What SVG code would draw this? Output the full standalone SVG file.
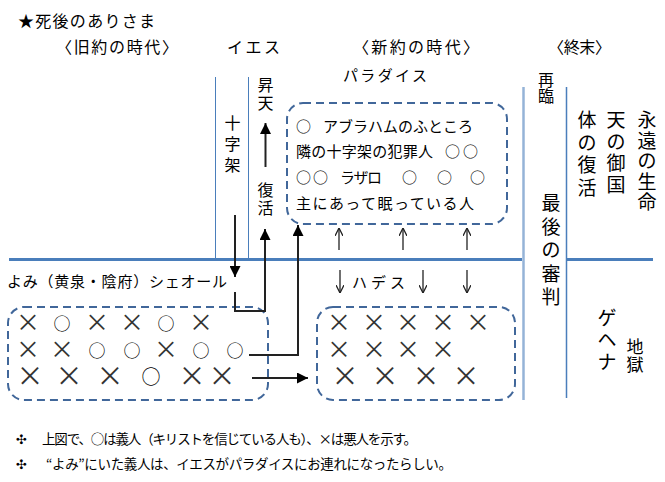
<svg xmlns="http://www.w3.org/2000/svg" width="665" height="482" viewBox="0 0 665 482">
<style>
text{font-family:"Noto Sans CJK JP","Noto Sans CJK SC",sans-serif;fill:#000}
.t{font-size:15px}
.h{font-size:16px}
.v{font-size:16px;text-anchor:middle}
.vb{font-size:19px;text-anchor:middle}
.o{font-size:17px;text-anchor:middle}
.x{font-size:24px;text-anchor:middle;fill:#333}
.xb{font-size:27px;text-anchor:middle;fill:#333}
.ft{font-size:13.5px}
.bul{font-family:"DejaVu Sans",sans-serif;font-size:13px}
.box{fill:none;stroke:#41679a;stroke-width:2;stroke-dasharray:8 5}
.a{stroke:#222;stroke-width:2;fill:none}
.ta{stroke:#222;stroke-width:1.3;fill:none}
.bl{stroke:#4a7ebb;fill:none}
</style>
<defs>
<marker id="ah" viewBox="0 0 10 10" refX="10" refY="5" markerWidth="11" markerHeight="11" markerUnits="userSpaceOnUse" orient="auto"><path d="M0,0 L10,5 L0,10 z" fill="#000"/></marker>
<marker id="oh" viewBox="0 0 10 10" refX="10" refY="5" markerWidth="8" markerHeight="8" markerUnits="userSpaceOnUse" orient="auto"><path d="M0,0 L10,5 L0,10" fill="none" stroke="#222" stroke-width="1.6"/></marker>
</defs>
<rect width="665" height="482" fill="#fff"/>

<g id="lines">
<line class="bl" x1="9" y1="259.5" x2="522" y2="259.5" stroke-width="3"/>
<line class="bl" x1="567" y1="259.5" x2="653" y2="259.5" stroke-width="3"/>
<line class="bl" x1="215.5" y1="77" x2="215.5" y2="258" stroke-width="1"/>
<line class="bl" x1="248.5" y1="77" x2="248.5" y2="258" stroke-width="1"/>
<line x1="523.5" y1="87" x2="523.5" y2="400" stroke="#95b3d7" stroke-width="2.5"/>
<line class="bl" x1="566.5" y1="87" x2="566.5" y2="398" stroke-width="1.5"/>
</g>

<g id="headers">
<text class="h" x="18" y="27" textLength="137">★死後のありさま</text>
<text class="h" x="56" y="53" textLength="122">〈旧約の時代〉</text>
<text class="h" x="227" y="53" textLength="53">イエス</text>
<text class="h" x="353" y="53" textLength="126">〈新約の時代〉</text>
<text class="h" x="548" y="53" textLength="63">〈終末〉</text>
</g>

<g id="paradise">
<text class="t" x="343" y="81" textLength="84">パラダイス</text>
<rect class="box" x="287" y="103" width="220" height="121" rx="16"/>
<text class="t" x="296" y="132">○</text>
<text class="t" x="323" y="132" textLength="150">アブラハムのふところ</text>
<text class="t" x="296" y="157" textLength="137">隣の十字架の犯罪人</text>
<text class="t" x="445" y="157" textLength="33">○○</text>
<text class="t" x="296" y="183" textLength="32">○○</text>
<text class="t" x="340" y="183" textLength="42">ラザロ</text>
<text class="t" x="402" y="183">○</text>
<text class="t" x="437" y="183">○</text>
<text class="t" x="470" y="183">○</text>
<text class="t" x="296" y="209" textLength="178">主にあって眠っている人</text>
</g>

<g id="jesus">
<text class="v"><tspan x="232.5" y="129">十</tspan><tspan x="232.5" y="150">字</tspan><tspan x="232.5" y="171">架</tspan></text>
<text class="v"><tspan x="265.5" y="91">昇</tspan><tspan x="265.5" y="109">天</tspan></text>
<text class="v"><tspan x="265.5" y="196">復</tspan><tspan x="265.5" y="214">活</tspan></text>
</g>

<g id="end-times">
<text class="v"><tspan x="546" y="86">再</tspan><tspan x="546" y="102">臨</tspan></text>
<text class="vb"><tspan x="551" y="210">最</tspan><tspan x="551" y="233.5">後</tspan><tspan x="551" y="257">の</tspan><tspan x="551" y="280.5">審</tspan><tspan x="551" y="304">判</tspan></text>
<text class="vb"><tspan x="587" y="127">体</tspan><tspan x="587" y="149.5">の</tspan><tspan x="587" y="172">復</tspan><tspan x="587" y="194.5">活</tspan></text>
<text class="vb"><tspan x="616" y="127">天</tspan><tspan x="616" y="148.5">の</tspan><tspan x="616" y="170">御</tspan><tspan x="616" y="191.5">国</tspan></text>
<text class="vb"><tspan x="647" y="127">永</tspan><tspan x="647" y="147.5">遠</tspan><tspan x="647" y="168">の</tspan><tspan x="647" y="188.5">生</tspan><tspan x="647" y="209">命</tspan></text>
</g>

<g id="gehenna">
<text class="vb"><tspan x="607" y="325">ゲ</tspan><tspan x="607" y="347">ヘ</tspan><tspan x="607" y="369">ナ</tspan></text>
<text class="v" style="font-size:17px"><tspan x="635" y="353">地</tspan><tspan x="635" y="371">獄</tspan></text>
</g>

<g id="yomi">
<text class="t" x="7" y="287" textLength="220">よみ（黄泉・陰府）シェオール</text>
<rect class="box" x="8" y="307" width="260" height="93" rx="16"/>
<text class="x" x="28" y="331">×</text><text class="o" x="62" y="329.5">○</text><text class="x" x="97" y="331">×</text><text class="x" x="132" y="331">×</text><text class="o" x="166" y="329.5">○</text><text class="x" x="201" y="331">×</text>
<text class="x" x="28" y="358">×</text><text class="x" x="62" y="358">×</text><text class="o" x="97" y="356.5">○</text><text class="o" x="132" y="356.5">○</text><text class="x" x="166" y="358">×</text><text class="o" x="201" y="356.5">○</text><text class="o" x="235" y="356.5">○</text>
<text class="xb" x="30" y="386">×</text><text class="xb" x="69" y="386">×</text><text class="xb" x="110" y="386">×</text><text class="o" x="151" y="384" style="font-size:19px">○</text><text class="xb" x="192" y="386">×</text><text class="xb" x="222" y="386">×</text>
</g>

<g id="hades">
<text class="t" x="352" y="288" textLength="53">ハデス</text>
<rect class="box" x="317" y="307" width="198" height="93" rx="16"/>
<text class="x" x="339" y="331">×</text><text class="x" x="374" y="331">×</text><text class="x" x="408" y="331">×</text><text class="x" x="443" y="331">×</text><text class="x" x="478" y="331">×</text>
<text class="x" x="339" y="358">×</text><text class="x" x="374" y="358">×</text><text class="x" x="408" y="358">×</text><text class="x" x="443" y="358">×</text>
<text class="xb" x="345" y="386">×</text><text class="xb" x="385" y="386">×</text><text class="xb" x="426" y="386">×</text><text class="xb" x="466" y="386">×</text>
</g>

<g id="connectors">
<path class="a" d="M265.5,167 V123" marker-end="url(#ah)"/>
<path class="a" d="M235,215 V277" marker-end="url(#ah)"/>
<path class="a" d="M235,292 V311 H265 V229" marker-end="url(#ah)"/>
<path class="a" d="M249,355 H298 V225" marker-end="url(#ah)"/>
<path class="a" d="M252,378 H308" marker-end="url(#ah)"/>
<path class="ta" d="M339,250 V228" marker-end="url(#oh)"/>
<path class="ta" d="M403,250 V228" marker-end="url(#oh)"/>
<path class="ta" d="M467,250 V228" marker-end="url(#oh)"/>
<path class="ta" d="M340,270 V293" marker-end="url(#oh)"/>
<path class="ta" d="M423,270 V293" marker-end="url(#oh)"/>
<path class="ta" d="M467,270 V293" marker-end="url(#oh)"/>
</g>

<g id="notes">
<text class="bul" x="16" y="444">✣</text>
<text class="ft" x="42" y="444" textLength="375">上図で、○は義人（キリストを信じている人も）、×は悪人を示す。</text>
<text class="bul" x="16" y="469">✣</text>
<text class="ft" x="46" y="469" textLength="406">“よみ”にいた義人は、イエスがパラダイスにお連れになったらしい。</text>
</g>
</svg>
